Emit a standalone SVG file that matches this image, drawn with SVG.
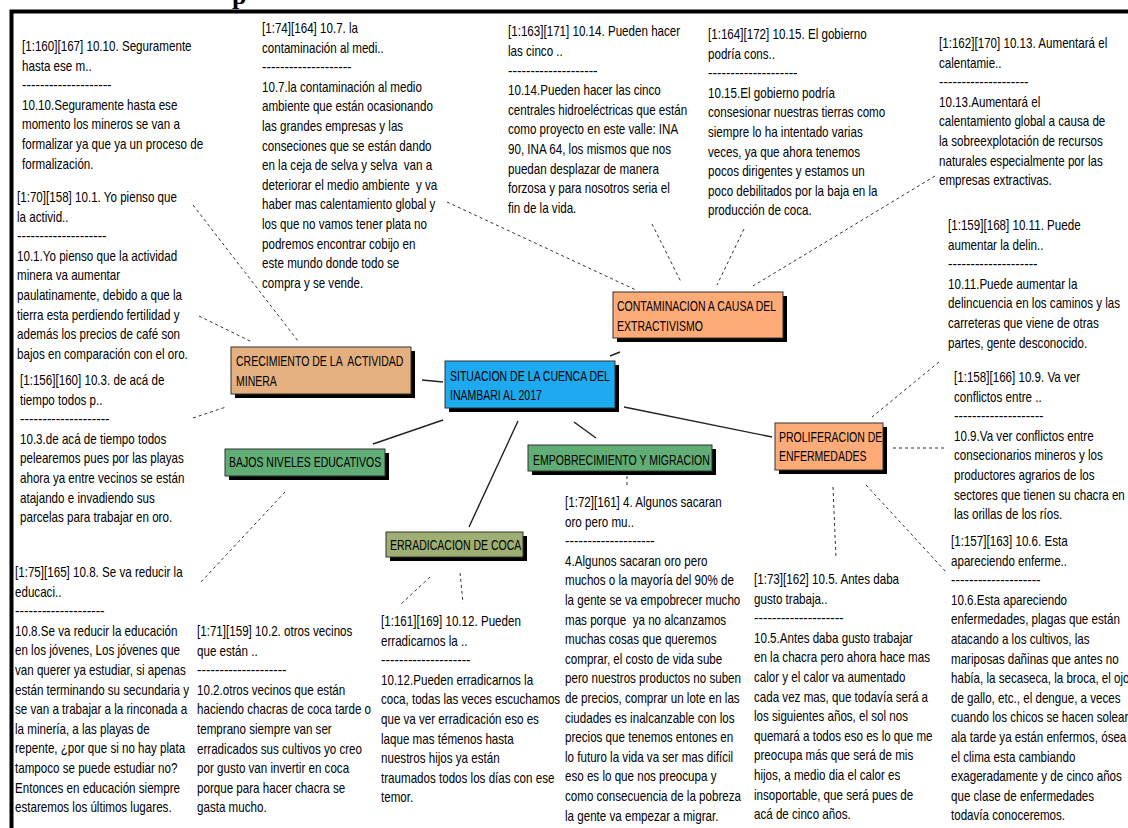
<svg xmlns="http://www.w3.org/2000/svg" width="1128" height="828" viewBox="0 0 1128 828">
<style>
.t{font-family:"Liberation Sans",Arial,sans-serif;font-size:14.5px;fill:#000;white-space:pre}
.lbl{font-family:"Liberation Sans",Arial,sans-serif;font-size:14.5px;fill:#000;white-space:pre}
.sh{fill:#000}
.box{stroke:#333;stroke-width:1}
.solid{stroke:#222;stroke-width:1.4;fill:none}
.dot{stroke:#333;stroke-width:1;fill:none;stroke-dasharray:3 3}
</style>
<rect width="1128" height="828" fill="#fff"/>
<text x="232" y="4" style="font-family:'Liberation Serif',serif;font-weight:bold;font-size:26px;fill:#000">p</text>
<path d="M11.5,828 V11.5 H1128" fill="none" stroke="#000" stroke-width="4"/>

<g id="connectors">
<line class="solid" x1="422" y1="380" x2="443" y2="382"/>
<line class="solid" x1="443" y1="420" x2="373" y2="444"/>
<line class="solid" x1="518" y1="421" x2="469" y2="527"/>
<line class="solid" x1="574" y1="422" x2="596" y2="438"/>
<line class="solid" x1="610" y1="356" x2="620" y2="352"/>
<line class="solid" x1="624" y1="407" x2="772" y2="437"/>
<line class="dot" x1="193" y1="205" x2="298" y2="341"/>
<line class="dot" x1="199" y1="316" x2="252" y2="342"/>
<line class="dot" x1="193" y1="418" x2="226" y2="407"/>
<line class="dot" x1="447" y1="202" x2="636" y2="290"/>
<line class="dot" x1="652" y1="224" x2="681" y2="282"/>
<line class="dot" x1="744" y1="229" x2="717" y2="285"/>
<line class="dot" x1="935" y1="176" x2="753" y2="286"/>
<line class="dot" x1="939" y1="362" x2="872" y2="417"/>
<line class="dot" x1="893" y1="448" x2="945" y2="448"/>
<line class="dot" x1="866" y1="485" x2="947" y2="573"/>
<line class="dot" x1="833" y1="487" x2="836" y2="558"/>
<line class="dot" x1="627" y1="476" x2="627" y2="487"/>
<line class="dot" x1="285" y1="492" x2="200" y2="583"/>
<line class="dot" x1="430" y1="577" x2="400" y2="605"/>
<line class="dot" x1="460" y1="573" x2="463" y2="603"/>
</g>

<g id="node-situacion">
<rect class="sh" x="449" y="365" width="170" height="47"/>
<rect class="box" x="445" y="361" width="170" height="47" fill="#1EAAF0"/>
<text class="lbl" transform="translate(450,0) scale(0.725,1)"><tspan x="0" y="381.5">SITUACION DE LA CUENCA DEL</tspan><tspan x="0" y="400.5">INAMBARI AL 2017</tspan></text>
</g>
<g id="node-crecimiento">
<rect class="sh" x="235" y="351" width="180" height="47"/>
<rect class="box" x="231" y="347" width="180" height="47" fill="#E4B07F"/>
<text class="lbl" transform="translate(236,0) scale(0.725,1)"><tspan x="0" y="366.5">CRECIMIENTO DE LA  ACTIVIDAD</tspan><tspan x="0" y="386">MINERA</tspan></text>
</g>
<g id="node-contaminacion">
<rect class="sh" x="617" y="296" width="170" height="46"/>
<rect class="box" x="613" y="292" width="170" height="46" fill="#FFAB77"/>
<text class="lbl" transform="translate(617,0) scale(0.725,1)"><tspan x="0" y="311">CONTAMINACION A CAUSA DEL</tspan><tspan x="0" y="331">EXTRACTIVISMO</tspan></text>
</g>
<g id="node-proliferacion">
<rect class="sh" x="779" y="427" width="108" height="47"/>
<rect class="box" x="775" y="423" width="108" height="47" fill="#FFAB77"/>
<text class="lbl" transform="translate(779,0) scale(0.725,1)"><tspan x="0" y="442">PROLIFERACION DE</tspan><tspan x="0" y="461.5">ENFERMEDADES</tspan></text>
</g>
<g id="node-empobrecimiento">
<rect class="sh" x="532" y="449" width="184" height="26"/>
<rect class="box" x="528" y="445" width="184" height="26" fill="#60AE76"/>
<text class="lbl" transform="translate(533,0) scale(0.725,1)"><tspan x="0" y="465">EMPOBRECIMIENTO Y MIGRACION</tspan></text>
</g>
<g id="node-bajos">
<rect class="sh" x="229" y="453" width="160" height="27"/>
<rect class="box" x="225" y="449" width="160" height="27" fill="#60AE76"/>
<text class="lbl" transform="translate(229,0) scale(0.725,1)"><tspan x="0" y="467.5">BAJOS NIVELES EDUCATIVOS</tspan></text>
</g>
<g id="node-erradicacion">
<rect class="sh" x="390" y="536" width="137" height="25"/>
<rect class="box" x="386" y="532" width="137" height="25" fill="#9DAF73"/>
<text class="lbl" transform="translate(390,0) scale(0.725,1)"><tspan x="0" y="550">ERRADICACION DE COCA</tspan></text>
</g>

<g id="note-10-10">
<text class="t" transform="translate(22,0) scale(0.8,1)"><tspan x="0" y="51">[1:160][167] 10.10. Seguramente</tspan><tspan x="0" dy="19.6">hasta ese m..</tspan><tspan x="0" dy="19.6" textLength="112" lengthAdjust="spacingAndGlyphs">--------------------</tspan><tspan x="0" dy="19.6">10.10.Seguramente hasta ese</tspan><tspan x="0" dy="19.6">momento los mineros se van a</tspan><tspan x="0" dy="19.6">formalizar ya que ya un proceso de</tspan><tspan x="0" dy="19.6">formalización.</tspan></text>
</g>
<g id="note-10-7">
<text class="t" transform="translate(262,0) scale(0.8,1)"><tspan x="0" y="33">[1:74][164] 10.7. la</tspan><tspan x="0" dy="19.6">contaminación al medi..</tspan><tspan x="0" dy="19.6" textLength="112" lengthAdjust="spacingAndGlyphs">--------------------</tspan><tspan x="0" dy="19.6">10.7.la contaminación al medio</tspan><tspan x="0" dy="19.6">ambiente que están ocasionando</tspan><tspan x="0" dy="19.6">las grandes empresas y las</tspan><tspan x="0" dy="19.6">conseciones que se están dando</tspan><tspan x="0" dy="19.6">en la ceja de selva y selva  van a</tspan><tspan x="0" dy="19.6">deteriorar el medio ambiente  y va</tspan><tspan x="0" dy="19.6">haber mas calentamiento global y</tspan><tspan x="0" dy="19.6">los que no vamos tener plata no</tspan><tspan x="0" dy="19.6">podremos encontrar cobijo en</tspan><tspan x="0" dy="19.6">este mundo donde todo se</tspan><tspan x="0" dy="19.6">compra y se vende.</tspan></text>
</g>
<g id="note-10-14">
<text class="t" transform="translate(508,0) scale(0.8,1)"><tspan x="0" y="36.5">[1:163][171] 10.14. Pueden hacer</tspan><tspan x="0" dy="19.6">las cinco ..</tspan><tspan x="0" dy="19.6" textLength="112" lengthAdjust="spacingAndGlyphs">--------------------</tspan><tspan x="0" dy="19.6">10.14.Pueden hacer las cinco</tspan><tspan x="0" dy="19.6">centrales hidroeléctricas que están</tspan><tspan x="0" dy="19.6">como proyecto en este valle: INA</tspan><tspan x="0" dy="19.6">90, INA 64, los mismos que nos</tspan><tspan x="0" dy="19.6">puedan desplazar de manera</tspan><tspan x="0" dy="19.6">forzosa y para nosotros seria el</tspan><tspan x="0" dy="19.6">fin de la vida.</tspan></text>
</g>
<g id="note-10-15">
<text class="t" transform="translate(708,0) scale(0.8,1)"><tspan x="0" y="39">[1:164][172] 10.15. El gobierno</tspan><tspan x="0" dy="19.6">podría cons..</tspan><tspan x="0" dy="19.6" textLength="112" lengthAdjust="spacingAndGlyphs">--------------------</tspan><tspan x="0" dy="19.6">10.15.El gobierno podría</tspan><tspan x="0" dy="19.6">consesionar nuestras tierras como</tspan><tspan x="0" dy="19.6">siempre lo ha intentado varias</tspan><tspan x="0" dy="19.6">veces, ya que ahora tenemos</tspan><tspan x="0" dy="19.6">pocos dirigentes y estamos un</tspan><tspan x="0" dy="19.6">poco debilitados por la baja en la</tspan><tspan x="0" dy="19.6">producción de coca.</tspan></text>
</g>
<g id="note-10-13">
<text class="t" transform="translate(939,0) scale(0.8,1)"><tspan x="0" y="48">[1:162][170] 10.13. Aumentará el</tspan><tspan x="0" dy="19.6">calentamie..</tspan><tspan x="0" dy="19.6" textLength="112" lengthAdjust="spacingAndGlyphs">--------------------</tspan><tspan x="0" dy="19.6">10.13.Aumentará el</tspan><tspan x="0" dy="19.6">calentamiento global a causa de</tspan><tspan x="0" dy="19.6">la sobreexplotación de recursos</tspan><tspan x="0" dy="19.6">naturales especialmente por las</tspan><tspan x="0" dy="19.6">empresas extractivas.</tspan></text>
</g>
<g id="note-10-1">
<text class="t" transform="translate(17,0) scale(0.8,1)"><tspan x="0" y="202">[1:70][158] 10.1. Yo pienso que</tspan><tspan x="0" dy="19.6">la activid..</tspan><tspan x="0" dy="19.6" textLength="112" lengthAdjust="spacingAndGlyphs">--------------------</tspan><tspan x="0" dy="19.6">10.1.Yo pienso que la actividad</tspan><tspan x="0" dy="19.6">minera va aumentar</tspan><tspan x="0" dy="19.6">paulatinamente, debido a que la</tspan><tspan x="0" dy="19.6">tierra esta perdiendo fertilidad y</tspan><tspan x="0" dy="19.6">además los precios de café son</tspan><tspan x="0" dy="19.6">bajos en comparación con el oro.</tspan></text>
</g>
<g id="note-10-3">
<text class="t" transform="translate(20,0) scale(0.8,1)"><tspan x="0" y="385">[1:156][160] 10.3. de acá de</tspan><tspan x="0" dy="19.6">tiempo todos p..</tspan><tspan x="0" dy="19.6" textLength="112" lengthAdjust="spacingAndGlyphs">--------------------</tspan><tspan x="0" dy="19.6">10.3.de acá de tiempo todos</tspan><tspan x="0" dy="19.6">pelearemos pues por las playas</tspan><tspan x="0" dy="19.6">ahora ya entre vecinos se están</tspan><tspan x="0" dy="19.6">atajando e invadiendo sus</tspan><tspan x="0" dy="19.6">parcelas para trabajar en oro.</tspan></text>
</g>
<g id="note-10-8">
<text class="t" transform="translate(15,0) scale(0.8,1)"><tspan x="0" y="577">[1:75][165] 10.8. Se va reducir la</tspan><tspan x="0" dy="19.6">educaci..</tspan><tspan x="0" dy="19.6" textLength="112" lengthAdjust="spacingAndGlyphs">--------------------</tspan><tspan x="0" dy="19.6">10.8.Se va reducir la educación</tspan><tspan x="0" dy="19.6">en los jóvenes, Los jóvenes que</tspan><tspan x="0" dy="19.6">van querer ya estudiar, si apenas</tspan><tspan x="0" dy="19.6">están terminando su secundaria y</tspan><tspan x="0" dy="19.6">se van a trabajar a la rinconada a</tspan><tspan x="0" dy="19.6">la minería, a las playas de</tspan><tspan x="0" dy="19.6">repente, ¿por que si no hay plata</tspan><tspan x="0" dy="19.6">tampoco se puede estudiar no?</tspan><tspan x="0" dy="19.6">Entonces en educación siempre</tspan><tspan x="0" dy="19.6">estaremos los últimos lugares.</tspan></text>
</g>
<g id="note-10-2">
<text class="t" transform="translate(197,0) scale(0.8,1)"><tspan x="0" y="636">[1:71][159] 10.2. otros vecinos</tspan><tspan x="0" dy="19.6">que están ..</tspan><tspan x="0" dy="19.6" textLength="112" lengthAdjust="spacingAndGlyphs">--------------------</tspan><tspan x="0" dy="19.6">10.2.otros vecinos que están</tspan><tspan x="0" dy="19.6">haciendo chacras de coca tarde o</tspan><tspan x="0" dy="19.6">temprano siempre van ser</tspan><tspan x="0" dy="19.6">erradicados sus cultivos yo creo</tspan><tspan x="0" dy="19.6">por gusto van invertir en coca</tspan><tspan x="0" dy="19.6">porque para hacer chacra se</tspan><tspan x="0" dy="19.6">gasta mucho.</tspan></text>
</g>
<g id="note-10-12">
<text class="t" transform="translate(381,0) scale(0.8,1)"><tspan x="0" y="626">[1:161][169] 10.12. Pueden</tspan><tspan x="0" dy="19.6">erradicarnos la ..</tspan><tspan x="0" dy="19.6" textLength="112" lengthAdjust="spacingAndGlyphs">--------------------</tspan><tspan x="0" dy="19.6">10.12.Pueden erradicarnos la</tspan><tspan x="0" dy="19.6">coca, todas las veces escuchamos</tspan><tspan x="0" dy="19.6">que va ver erradicación eso es</tspan><tspan x="0" dy="19.6">laque mas témenos hasta</tspan><tspan x="0" dy="19.6">nuestros hijos ya están</tspan><tspan x="0" dy="19.6">traumados todos los días con ese</tspan><tspan x="0" dy="19.6">temor.</tspan></text>
</g>
<g id="note-4">
<text class="t" transform="translate(565,0) scale(0.8,1)"><tspan x="0" y="507">[1:72][161] 4. Algunos sacaran</tspan><tspan x="0" dy="19.6">oro pero mu..</tspan><tspan x="0" dy="19.6" textLength="112" lengthAdjust="spacingAndGlyphs">--------------------</tspan><tspan x="0" dy="19.6">4.Algunos sacaran oro pero</tspan><tspan x="0" dy="19.6">muchos o la mayoría del 90% de</tspan><tspan x="0" dy="19.6">la gente se va empobrecer mucho</tspan><tspan x="0" dy="19.6">mas porque  ya no alcanzamos</tspan><tspan x="0" dy="19.6">muchas cosas que queremos</tspan><tspan x="0" dy="19.6">comprar, el costo de vida sube</tspan><tspan x="0" dy="19.6">pero nuestros productos no suben</tspan><tspan x="0" dy="19.6">de precios, comprar un lote en las</tspan><tspan x="0" dy="19.6">ciudades es inalcanzable con los</tspan><tspan x="0" dy="19.6">precios que tenemos entones en</tspan><tspan x="0" dy="19.6">lo futuro la vida va ser mas difícil</tspan><tspan x="0" dy="19.6">eso es lo que nos preocupa y</tspan><tspan x="0" dy="19.6">como consecuencia de la pobreza</tspan><tspan x="0" dy="19.6">la gente va empezar a migrar.</tspan></text>
</g>
<g id="note-10-11">
<text class="t" transform="translate(948,0) scale(0.8,1)"><tspan x="0" y="230">[1:159][168] 10.11. Puede</tspan><tspan x="0" dy="19.6">aumentar la delin..</tspan><tspan x="0" dy="19.6" textLength="112" lengthAdjust="spacingAndGlyphs">--------------------</tspan><tspan x="0" dy="19.6">10.11.Puede aumentar la</tspan><tspan x="0" dy="19.6">delincuencia en los caminos y las</tspan><tspan x="0" dy="19.6">carreteras que viene de otras</tspan><tspan x="0" dy="19.6">partes, gente desconocido.</tspan></text>
</g>
<g id="note-10-9">
<text class="t" transform="translate(954,0) scale(0.8,1)"><tspan x="0" y="382">[1:158][166] 10.9. Va ver</tspan><tspan x="0" dy="19.6">conflictos entre ..</tspan><tspan x="0" dy="19.6" textLength="112" lengthAdjust="spacingAndGlyphs">--------------------</tspan><tspan x="0" dy="19.6">10.9.Va ver conflictos entre</tspan><tspan x="0" dy="19.6">consecionarios mineros y los</tspan><tspan x="0" dy="19.6">productores agrarios de los</tspan><tspan x="0" dy="19.6">sectores que tienen su chacra en</tspan><tspan x="0" dy="19.6">las orillas de los ríos.</tspan></text>
</g>
<g id="note-10-6">
<text class="t" transform="translate(951,0) scale(0.8,1)"><tspan x="0" y="546">[1:157][163] 10.6. Esta</tspan><tspan x="0" dy="19.6">apareciendo enferme..</tspan><tspan x="0" dy="19.6" textLength="112" lengthAdjust="spacingAndGlyphs">--------------------</tspan><tspan x="0" dy="19.6">10.6.Esta apareciendo</tspan><tspan x="0" dy="19.6">enfermedades, plagas que están</tspan><tspan x="0" dy="19.6">atacando a los cultivos, las</tspan><tspan x="0" dy="19.6">mariposas dañinas que antes no</tspan><tspan x="0" dy="19.6">había, la secaseca, la broca, el ojo</tspan><tspan x="0" dy="19.6">de gallo, etc., el dengue, a veces</tspan><tspan x="0" dy="19.6">cuando los chicos se hacen solear</tspan><tspan x="0" dy="19.6">ala tarde ya están enfermos, ósea</tspan><tspan x="0" dy="19.6">el clima esta cambiando</tspan><tspan x="0" dy="19.6">exageradamente y de cinco años</tspan><tspan x="0" dy="19.6">que clase de enfermedades</tspan><tspan x="0" dy="19.6">todavía conoceremos.</tspan></text>
</g>
<g id="note-10-5">
<text class="t" transform="translate(754,0) scale(0.8,1)"><tspan x="0" y="584">[1:73][162] 10.5. Antes daba</tspan><tspan x="0" dy="19.6">gusto trabaja..</tspan><tspan x="0" dy="19.6" textLength="112" lengthAdjust="spacingAndGlyphs">--------------------</tspan><tspan x="0" dy="19.6">10.5.Antes daba gusto trabajar</tspan><tspan x="0" dy="19.6">en la chacra pero ahora hace mas</tspan><tspan x="0" dy="19.6">calor y el calor va aumentado</tspan><tspan x="0" dy="19.6">cada vez mas, que todavía será a</tspan><tspan x="0" dy="19.6">los siguientes años, el sol nos</tspan><tspan x="0" dy="19.6">quemará a todos eso es lo que me</tspan><tspan x="0" dy="19.6">preocupa más que será de mis</tspan><tspan x="0" dy="19.6">hijos, a medio dia el calor es</tspan><tspan x="0" dy="19.6">insoportable, que será pues de</tspan><tspan x="0" dy="19.6">acá de cinco años.</tspan></text>
</g>
</svg>
